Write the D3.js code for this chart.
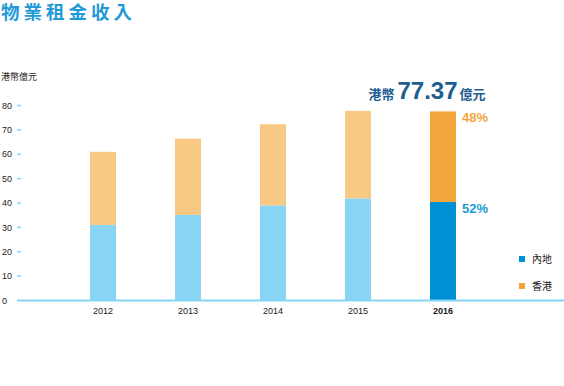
<!DOCTYPE html>
<html><head><meta charset="utf-8">
<script src="https://cdn.jsdelivr.net/npm/d3@7"></script>
<style>body{margin:0;background:#fff}svg{display:block}</style>
</head><body>
<svg id="c" width="564" height="386"></svg>
<script>
const years = ["2012","2013","2014","2015","2016"];
const mainland = [30.8, 34.9, 38.8, 41.7, 40.23];
const hongkong = [30.0, 31.3, 33.3, 35.9, 37.14];
const yTicks = [0,10,20,30,40,50,60,70,80];
const seriesNames = ["內地","香港"];
const sharePct = ["52%","48%"];
const totalLabel = "77.37";

const svg = d3.select("#c");
const cjk = "'Noto Sans CJK TC','Noto Sans CJK SC',sans-serif";
const lat = "'Liberation Sans',Arial,sans-serif";

const y = d3.scaleLinear().domain([0,80]).range([300,105]);
const x = d3.scaleBand().domain(years).range([60.5,485.5]).padding(0);
const bw = 26;

// title
svg.append("text").attr("x",1).attr("y",19).attr("font-family",cjk).attr("font-weight","bold")
  .attr("font-size",18.5).attr("letter-spacing",4).attr("fill","#1f9ad7").text("物業租金收入");
// y title
svg.append("text").attr("x",1).attr("y",80).attr("font-family",cjk).attr("font-size",9)
  .attr("fill","#222").text("港幣億元");

// y axis
const yAxis = d3.axisLeft(y).tickValues(yTicks).tickSize(0).tickFormat(d3.format("d"));
const ga = svg.append("g").call(yAxis);
ga.select(".domain").remove();
ga.selectAll("text").attr("x",2).attr("text-anchor","start").attr("dy","0.35em")
  .attr("font-family",lat).attr("font-size",9).attr("fill","#222");
ga.selectAll(".tick").filter(d=>d>0).append("line").attr("x1",17).attr("x2",21)
  .attr("stroke","#86d3f4").attr("stroke-width",1.5);

// bars
const data = years.map((yr,i)=>({yr,m:mainland[i],h:hongkong[i],last:i===years.length-1}));
const bars = svg.append("g");
bars.selectAll(".m").data(data).join("rect")
  .attr("x",d=>x(d.yr)+(x.bandwidth()-bw)/2).attr("width",bw)
  .attr("y",d=>y(d.m)).attr("height",d=>y(0)-y(d.m))
  .attr("fill",d=>d.last?"#0090d4":"#87d4f5");
bars.selectAll(".h").data(data).join("rect")
  .attr("x",d=>x(d.yr)+(x.bandwidth()-bw)/2).attr("width",bw)
  .attr("y",d=>y(d.m+d.h)).attr("height",d=>y(d.m)-y(d.m+d.h))
  .attr("fill",d=>d.last?"#f2a53a":"#f8c885");

// baseline
svg.append("line").attr("x1",17).attr("x2",564).attr("y1",y(0)+0.5).attr("y2",y(0)+0.5)
  .attr("stroke","#86d3f4").attr("stroke-width",2);

// x axis labels
const xAxis = d3.axisBottom(x).tickSize(0);
const gx = svg.append("g").attr("transform",`translate(0,${y(0)})`).call(xAxis);
gx.select(".domain").remove();
gx.selectAll("text").attr("y",8).attr("dy","0.71em").attr("font-family",lat).attr("font-size",9)
  .attr("fill","#222").attr("font-weight",d=>d==="2016"?"bold":"normal");

// total label
const last = data[data.length-1];
const cx = x(last.yr)+x.bandwidth()/2;
const tt = svg.append("text").attr("x",cx-16).attr("y",y(last.m+last.h)-12).attr("text-anchor","middle")
  .attr("fill","#1c5e91").attr("font-weight","bold");
tt.append("tspan").attr("font-family",cjk).attr("font-size",13).text("港幣");
tt.append("tspan").attr("font-family",lat).attr("font-size",24).attr("dx",3).text(totalLabel);
tt.append("tspan").attr("font-family",cjk).attr("font-size",13).attr("dx",2).text("億元");

// share labels
const lx = x(last.yr)+(x.bandwidth()-bw)/2+bw+6;
svg.append("text").attr("x",lx).attr("y",y(last.m+last.h)+11).attr("font-family",lat)
  .attr("font-weight","bold").attr("font-size",13).attr("fill","#f2a53a").text(sharePct[1]);
svg.append("text").attr("x",lx).attr("y",y(last.m)+11).attr("font-family",lat)
  .attr("font-weight","bold").attr("font-size",13).attr("fill","#1a9ad6").text(sharePct[0]);

// legend
const lg = svg.append("g");
const legColors = ["#0090d4","#f2a53a"];
seriesNames.forEach((n,i)=>{
  lg.append("rect").attr("x",519).attr("y",256+i*27).attr("width",6).attr("height",6).attr("fill",legColors[i]);
  lg.append("text").attr("x",532).attr("y",263+i*27).attr("font-family",cjk).attr("font-size",10)
    .attr("fill","#222").text(n);
});
</script>
</body></html>
